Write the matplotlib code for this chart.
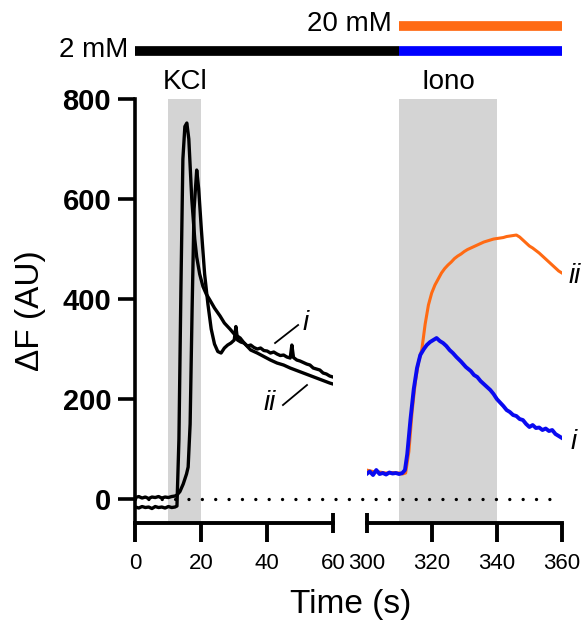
import numpy as np
import matplotlib.pyplot as plt
from matplotlib.lines import Line2D
from matplotlib import transforms

plt.rcParams['font.family'] = ['Liberation Sans', 'DejaVu Sans']

# ---- data ----
# KCl step (left panel), two cells
t_kcl_i = [0, 1, 2, 3, 4, 5, 6, 7, 8, 9, 10, 11, 12, 12.6, 13.5, 14.5, 15.5, 16.0, 16.6,
           17.2, 17.8, 18.6, 19.2, 20.0, 21.0, 22.0, 23.0, 24.0, 25.0, 26.0, 27.0, 28.0,
           29.0, 30.0, 30.5, 31.0, 32, 33, 34, 35, 36, 37, 38, 39, 40, 41, 42, 43, 44, 45,
           46, 47, 47.5, 48, 49, 50, 51, 52, 53, 54, 55, 56, 57, 58, 59, 60]
df_kcl_i = [3, 5, 2, 4, 1, 4, 3, 5, 2, 4, 3, 5, 6, 8, 15, 30, 50, 64, 150,
            380, 580, 658, 620, 540, 450, 390, 340, 310, 295, 292, 302, 308,
            312, 318, 345, 318, 314, 312, 306, 308, 303, 300, 302, 297, 296, 292, 294, 290, 287, 288,
            284, 282, 308, 283, 278, 276, 273, 270, 268, 262, 260, 258, 252, 250, 246, 244]

t_kcl_ii = [0, 1, 2, 3, 4, 5, 6, 7, 8, 9, 10, 11, 12, 12.6, 13.2, 13.8, 14.4, 15.0, 15.6,
            16.2, 17.1, 18.0, 18.6, 19.5, 20.5, 21.5, 22.6, 24.0, 25.7, 27.0, 28.7, 30.0,
            31.8, 33, 35, 37, 39, 41, 43, 45, 47, 49, 51, 53, 55, 57, 59, 60]
df_kcl_ii = [-16, -18, -15, -17, -16, -19, -15, -17, -16, -18, -15, -17, -16, -14, 120, 420, 680, 745, 752,
             720, 600, 520, 484, 450, 425, 410, 398, 382, 366, 352, 340, 330,
             322, 312, 298, 292, 285, 278, 272, 268, 262, 257, 252, 247, 242, 237, 232, 230]

# ionomycin step (right panel): i = 2 mM, ii = 20 mM
t_iono_i = [300, 301, 302, 303, 304, 305, 306, 307, 308, 309, 310, 311, 311.8, 312.5, 313.5,
            314.5, 315.5, 316.5, 317.6, 318.5, 319.5, 320.5, 321.5, 322.5, 323.5, 324.5, 325.5,
            326.5, 327.6, 329, 330.5, 332, 333, 334, 335, 336, 337, 338, 339, 340, 341, 342,
            343, 344, 345, 346, 347, 348, 349, 350, 351, 352, 353, 354, 355, 356, 357, 358, 359, 360]
df_iono_i = [50, 55, 48, 58, 50, 52, 49, 53, 51, 52, 50, 52, 58, 90, 160,
             220, 262, 288, 300, 308, 314, 318, 322, 316, 312, 306, 298,
             292, 284, 275, 264, 256, 248, 244, 236, 230, 224, 218, 210, 200, 193, 186,
             178, 174, 168, 166, 160, 158, 150, 144, 148, 142, 143, 138, 141, 136, 138, 130, 126, 122]

t_iono_ii = [300, 302, 304, 306, 308, 310, 311, 312, 313, 314, 315, 316, 317, 318, 319, 320,
             321, 322, 323, 324, 325, 326, 327, 328, 329, 330, 331, 332, 333, 334, 335, 336,
             337, 338, 339, 340, 341, 342, 343, 344, 345, 346, 347, 348, 349, 350, 351, 352,
             353, 354, 355, 356, 357, 358, 359, 360]
df_iono_ii = [58, 55, 54, 52, 53, 52, 50, 52, 95, 175, 235, 275, 300, 350, 388, 412,
              428, 440, 452, 461, 468, 474, 481, 486, 490, 495, 499, 502, 505, 508, 511, 514,
              516, 518, 520, 521, 522, 523, 525, 526, 527, 528, 524, 518, 512, 506, 502, 497,
              492, 486, 480, 474, 468, 462, 456, 452]

kcl_window = (10, 20)
iono_window = (310, 340)
y_ticks = [0, 200, 400, 600, 800]
left_ticks = [0, 20, 40]
right_ticks = [320, 340, 360]

orange = '#ff6a13'
blue = '#0a0af0'
shade = '#d4d4d4'

fig = plt.figure(figsize=(5.87, 6.30), dpi=100)
ax_l = fig.add_axes([0.2308, 0.1698, 0.3365, 0.6730])
ax_r = fig.add_axes([0.6244, 0.1698, 0.3330, 0.6730])

for ax in (ax_l, ax_r):
    ax.set_ylim(-48, 800)
    for s in ('top', 'right'):
        ax.spines[s].set_visible(False)
    ax.spines['bottom'].set_linewidth(2.8)
    ax.spines['left'].set_linewidth(2.6)
    ax.tick_params(axis='x', which='major', direction='out', length=13.5, width=2.8,
                   labelsize=16, pad=8)
    ax.tick_params(axis='x', which='minor', direction='inout', length=14.5, width=2.8,
                   labelsize=16, pad=14.5)

ax_l.set_xlim(0, 60)
ax_r.set_xlim(300, 360)
ax_l.set_xticks(left_ticks)
ax_l.set_xticks([60], labels=['60'], minor=True)
ax_r.set_xticks(right_ticks)
ax_r.set_xticks([300], labels=['300'], minor=True)

ax_l.set_yticks(y_ticks)
ax_l.tick_params(axis='y', direction='out', length=12.5, width=2.6, labelsize=21, pad=5)
for lab in ax_l.get_yticklabels():
    lab.set_fontweight('bold')
ax_r.spines['left'].set_visible(False)
ax_r.set_yticks([])

# stimulus windows
ax_l.axvspan(*kcl_window, color=shade, lw=0, zorder=0)
ax_r.axvspan(*iono_window, color=shade, lw=0, zorder=0)

# traces
ax_l.plot(t_kcl_ii, df_kcl_ii, color='black', lw=2.4, zorder=3)
ax_l.plot(t_kcl_i, df_kcl_i, color='black', lw=2.4, zorder=3)
ax_r.plot(t_iono_ii, df_iono_ii, color=orange, lw=2.2, zorder=3)
ax_r.plot(t_iono_i, df_iono_i, color=blue, lw=2.8, zorder=4)

# dotted zero line across both panels
to_fig = fig.transFigure.inverted()


def fx(ax, t):
    return to_fig.transform(ax.transData.transform((t, 0)))[0]


zero_tr = transforms.blended_transform_factory(fig.transFigure, ax_l.transData)
fig.add_artist(Line2D([fx(ax_l, 0), fx(ax_r, 360)], [0, 0], transform=zero_tr,
                      color='black', lw=2.4, linestyle=(0, (0.01, 4.0)),
                      dash_capstyle='round', zorder=1))

# trace labels
ax_l.plot([42.4, 49.4], [312, 348], color='black', lw=1.3)
ax_l.plot([44.8, 52.1], [188, 228], color='black', lw=1.3)
ax_l.text(51.8, 352, 'i', fontsize=20, style='italic', ha='center', va='center')
ax_l.text(40.9, 192, 'ii', fontsize=20, style='italic', ha='center', va='center')
ax_r.text(364.0, 446, 'ii', fontsize=20, style='italic', ha='center', va='center')
ax_r.text(363.7, 114, 'i', fontsize=20, style='italic', ha='center', va='center')

# stimulus labels
ax_l.text(sum(kcl_window) / 2, 834, 'KCl', fontsize=20, ha='center', va='center')
ax_r.text(sum(iono_window) / 2, 834, 'Iono', fontsize=20, ha='center', va='center')

# extracellular Ca2+ bars
bar_tr = transforms.blended_transform_factory(fig.transFigure, ax_l.transData)
x0, xs, x1 = fx(ax_l, 0), fx(ax_r, 310), fx(ax_r, 360)
fig.add_artist(Line2D([x0, xs], [896, 896], transform=bar_tr, color='black',
                      lw=7, solid_capstyle='butt'))
fig.add_artist(Line2D([xs, x1], [896, 896], transform=bar_tr, color='#0000ff',
                      lw=7, solid_capstyle='butt'))
fig.add_artist(Line2D([xs, x1], [946, 946], transform=bar_tr, color=orange,
                      lw=7, solid_capstyle='butt'))
fig.text(x0 - 0.012, 1 - 50 / 630, '2 mM', fontsize=20, ha='right', va='center')
fig.text(xs - 0.012, 1 - 24 / 630, '20 mM', fontsize=20, ha='right', va='center')

# axis titles
fig.text(30 / 587, 1 - 311 / 630, 'ΔF (AU)', fontsize=24, rotation=90,
         ha='center', va='center')
fig.text(351 / 587, 1 - 604 / 630, 'Time (s)', fontsize=24, ha='center', va='center')

fig.savefig('out.png', dpi=100)
